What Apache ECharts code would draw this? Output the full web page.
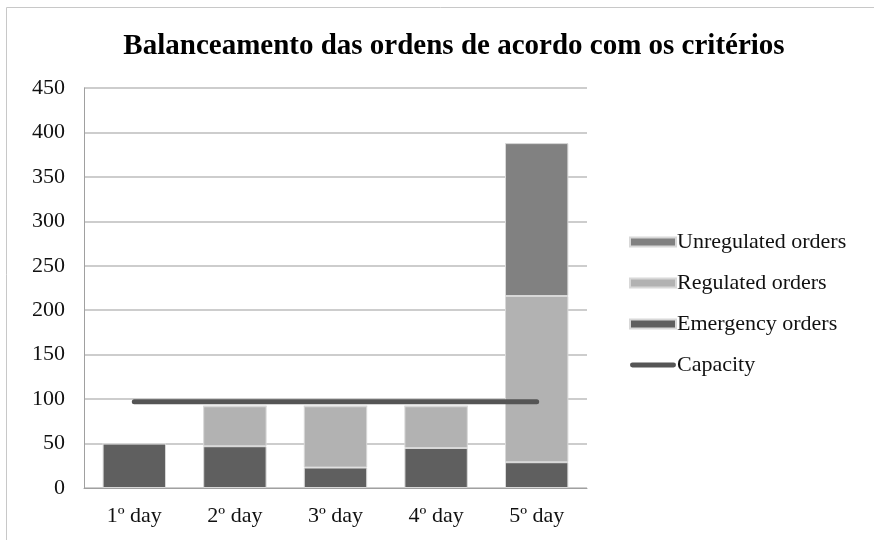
<!DOCTYPE html>
<html>
<head>
<meta charset="utf-8">
<script src="https://cdn.jsdelivr.net/npm/echarts@6/dist/echarts.min.js"></script>
<style>
  html, body { margin: 0; padding: 0; background: #fff; }
  #chart { width: 874px; height: 540px; }
</style>
</head>
<body>
<div id="chart"></div>
<script>
const days = ['1º day', '2º day', '3º day', '4º day', '5º day']
const emergency = [50, 47, 23, 45, 29]
const regulated = [0, 45, 69, 47, 187]
const unregulated = [0, 0, 0, 0, 172]
const capacity = [97, 97, 97, 97, 97]

const font = '"Liberation Serif", "Times New Roman", serif'
const chart = echarts.init(document.getElementById('chart'))

const barSeries = (name, data, color) => ({
  name,
  type: 'bar',
  stack: 'orders',
  barWidth: '63%',
  data,
  itemStyle: { color, borderColor: '#d8d8d8', borderWidth: 1 },
})

chart.setOption({
  animation: false,
  textStyle: { fontFamily: font },
  title: {
    text: 'Balanceamento das ordens de acordo com os critérios',
    left: 449,
    textAlign: 'center',
    top: 27,
    textStyle: { fontFamily: font, fontSize: 29, fontWeight: 'bold', color: '#000' },
  },
  graphic: [
    {
      type: 'rect',
      shape: { x: 6.5, y: 7.5, width: 880, height: 560 },
      style: { fill: 'none', stroke: '#c8c8c8', lineWidth: 1 },
      silent: true,
    },
  ],
  legend: {
    orient: 'vertical',
    left: 624,
    top: 226,
    itemGap: 19,
    itemWidth: 46,
    itemHeight: 9,
    textStyle: { fontFamily: font, fontSize: 22, color: '#111', padding: [0, 0, 0, -4] },
    data: [
      { name: 'Unregulated orders', icon: 'rect' },
      { name: 'Regulated orders', icon: 'rect' },
      { name: 'Emergency orders', icon: 'rect' },
      { name: 'Capacity', icon: 'path://M2,0 h42 a2.5,2.5 0 0 1 0,5 h-42 a2.5,2.5 0 0 1 0,-5 Z' },
    ],
  },
  grid: { left: 84, right: 287, top: 88, bottom: 52 },
  xAxis: {
    type: 'category',
    data: days,
    axisTick: { show: false },
    axisLine: { lineStyle: { color: '#a0a0a0', width: 1 } },
    axisLabel: { color: '#111', fontSize: 22, fontFamily: font, margin: 17 },
  },
  yAxis: {
    type: 'value',
    min: 0,
    max: 450,
    interval: 50,
    axisLine: { show: true, lineStyle: { color: '#a0a0a0' } },
    axisTick: { show: false },
    axisLabel: { color: '#111', fontSize: 22, fontFamily: font, margin: 19 },
    splitLine: { lineStyle: { color: '#bdbdbd', width: 1.5 } },
  },
  series: [
    barSeries('Emergency orders', emergency, '#5f5f5f'),
    barSeries('Regulated orders', regulated, '#b2b2b2'),
    barSeries('Unregulated orders', unregulated, '#818181'),
    {
      name: 'Capacity',
      type: 'line',
      data: capacity,
      symbol: 'none',
      z: 5,
      lineStyle: { color: '#555555', width: 5, cap: 'round' },
      itemStyle: { color: '#555555' },
    },
  ],
})
</script>
</body>
</html>
